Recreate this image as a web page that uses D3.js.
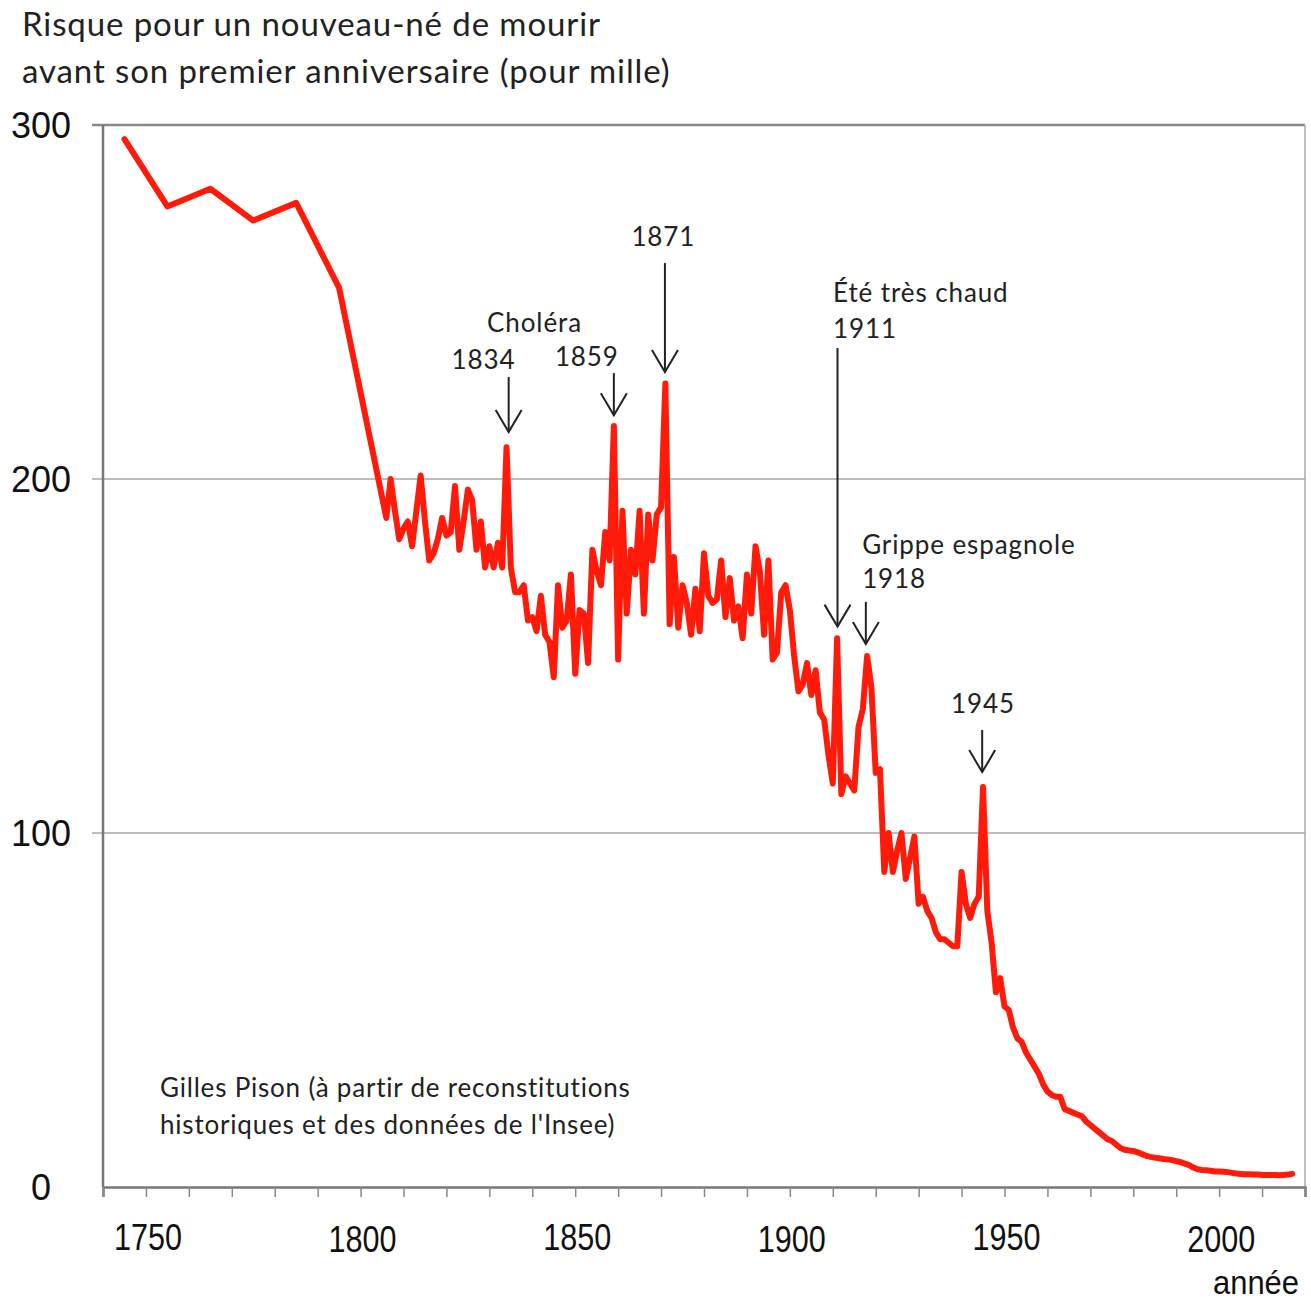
<!DOCTYPE html>
<html>
<head>
<meta charset="utf-8">
<script src="https://cdn.jsdelivr.net/npm/d3@7"></script>
<style>
  body { margin: 0; background: #fff; }
  svg { display: block; }
</style>
</head>
<body>
<div id="chart"></div>
<script>
// decadal estimates before 1800, then yearly values (per 1000)
var years_early = [1745, 1755, 1765, 1775, 1785, 1795];
var values_early = [296, 277, 282, 273, 278, 254];

var year_start = 1806;
var values_yearly = [
  // 1806-1835
  189, 200, 191, 183, 186, 188, 181, 191, 201, 188,
  177, 179, 183, 189, 184, 185, 198, 180, 188, 197,
  194, 180, 188, 175, 181, 175, 182, 175, 209, 175,
  // 1836-1865
  168, 168, 170, 160, 161, 157, 167, 156, 154, 144,
  170, 158, 160, 173, 145, 163, 162, 148, 180, 174,
  170, 185, 177, 215, 149, 191, 162, 180, 173, 191,
  // 1866-1895
  162, 190, 177, 190, 192, 227, 159, 178, 158, 170,
  165, 156, 169, 157, 179, 167, 165, 166, 177, 161,
  172, 160, 164, 155, 173, 162, 181, 174, 156, 177,
  // 1896-1925
  149, 151, 168, 170, 163, 150, 140, 142, 148, 139,
  146, 134, 132, 122, 114, 155, 111, 116, 114, 112,
  130, 135, 150, 141, 117, 118, 89, 100, 89, 95,
  // 1926-1955
  100, 87, 93, 99, 80, 82, 78, 76, 72, 70,
  70, 69, 68, 68, 89, 80, 76, 80, 82, 113,
  78, 69, 55, 59, 51, 50, 45, 42, 41, 38,
  // 1956-1985
  36, 34, 32, 29, 27, 26, 25.5, 25.5, 22, 21.5,
  21, 20.5, 20, 18.5, 17.5, 16.5, 15.5, 14.5, 13.5, 13,
  12, 11, 10.5, 10.3, 10.2, 9.8, 9.3, 8.8, 8.5, 8.3,
  // 1986-2017
  8.1, 7.9, 7.8, 7.6, 7.3, 7.0, 6.6, 6.2, 5.5, 5.0,
  4.8, 4.7, 4.6, 4.4, 4.4, 4.3, 4.2, 4.0, 3.8, 3.7,
  3.6, 3.6, 3.5, 3.5, 3.4, 3.4, 3.4, 3.4, 3.3, 3.4,
  3.5, 3.7
];

var y_ticks = [0, 100, 200, 300];
var x_labels = [1750, 1800, 1850, 1900, 1950, 2000];

// annotated events: year of arrow, arrow top and tip (per 1000)
var note_years = [1834.5, 1859, 1870.9, 1911.1, 1917.7, 1944.8];
var note_tops = [228.8, 229.9, 261, 237, 165.3, 129.1];
var note_tips = [213.3, 218, 230.2, 158.3, 153.4, 117.2];

var title_lines = ['Risque pour un nouveau-né de mourir', 'avant son premier anniversaire (pour mille)'];
var source_lines = ["Gilles Pison (à partir de reconstitutions", "historiques et des données de l'Insee)"];

var data = years_early.map(function(y, i) { return {year: y, value: values_early[i]}; })
  .concat(values_yearly.map(function(v, i) { return {year: year_start + i, value: v}; }));

var width = 1311, height = 1302;

var svg = d3.select('#chart').append('svg')
  .attr('width', width)
  .attr('height', height)
  .style('font-family', 'Lato, "Open Sans", sans-serif');

var x = d3.scaleLinear().domain([1740, 2020]).range([103, 1305]);
var y = d3.scaleLinear().domain([0, 300]).range([1187, 125]);

// grid lines + frame
svg.append('g').selectAll('line')
  .data(y_ticks.filter(function(d) { return d > 0; }))
  .enter().append('line')
  .attr('x1', 92).attr('x2', x(2020))
  .attr('y1', function(d) { return y(d); })
  .attr('y2', function(d) { return y(d); })
  .attr('stroke', function(d) { return d == 300 ? '#888' : '#bdbdbd'; })
  .attr('stroke-width', function(d) { return d == 300 ? 2.5 : 1.8; });

svg.append('line')
  .attr('x1', x(2020)).attr('x2', x(2020))
  .attr('y1', y(300)).attr('y2', y(0))
  .attr('stroke', '#aaa').attr('stroke-width', 1.5);

// y axis
svg.append('line')
  .attr('x1', x(1740)).attr('x2', x(1740))
  .attr('y1', y(300)).attr('y2', y(0))
  .attr('stroke', '#777').attr('stroke-width', 2.5);

svg.append('g').selectAll('text')
  .data(y_ticks)
  .enter().append('text')
  .attr('x', 41)
  .attr('y', function(d) { return y(d) + 13; })
  .attr('text-anchor', 'middle')
  .style('font-family', '"Liberation Sans", Arial, sans-serif')
  .style('font-size', '36px')
  .attr('fill', '#111')
  .text(function(d) { return d; });

// x axis
var xaxis = d3.axisBottom(x)
  .tickValues(d3.range(1740, 2021, 10))
  .tickSize(10)
  .tickFormat('');

svg.append('g')
  .attr('transform', 'translate(0,' + y(0) + ')')
  .call(xaxis)
  .call(function(g) {
    g.select('.domain').attr('stroke', '#777').attr('stroke-width', 2.5);
    g.selectAll('.tick line').attr('stroke', '#888').attr('stroke-width', 1.5);
  });

// narrow labels, squeezed to the reference width
svg.append('g').selectAll('text')
  .data(x_labels)
  .enter().append('text')
  .attr('x', function(d) { return x(d) + 2 - 34; })
  .attr('y', function(d, i) { return i % 2 == 0 ? 1250 : 1252; })
  .attr('textLength', 68)
  .attr('lengthAdjust', 'spacingAndGlyphs')
  .style('font-family', '"Liberation Sans", sans-serif')
  .style('font-size', '37px')
  .attr('fill', '#111')
  .text(function(d) { return d; });

svg.append('text')
  .attr('x', 1213)
  .attr('y', 1294)
  .attr('textLength', 86)
  .attr('lengthAdjust', 'spacingAndGlyphs')
  .style('font-family', '"Liberation Sans", sans-serif')
  .style('font-size', '33px')
  .attr('fill', '#111')
  .text('année');

// the series
var line = d3.line()
  .x(function(d) { return x(d.year); })
  .y(function(d) { return y(d.value); });

svg.append('path')
  .datum(data)
  .attr('d', line)
  .attr('fill', 'none')
  .attr('stroke', '#ff1a0a')
  .attr('stroke-width', 6)
  .attr('stroke-linejoin', 'round')
  .attr('stroke-linecap', 'round');

// arrows
var arrows = svg.append('g').attr('stroke', '#222').attr('stroke-width', 2).attr('fill', 'none');
note_years.forEach(function(yr, i) {
  var ax = x(yr), top = y(note_tops[i]), tip = y(note_tips[i]);
  arrows.append('line').attr('x1', ax).attr('x2', ax).attr('y1', top).attr('y2', tip);
  arrows.append('path')
    .attr('d', 'M' + (ax - 13) + ',' + (tip - 22) + 'L' + ax + ',' + tip + 'L' + (ax + 13) + ',' + (tip - 22));
});

// labels
var notes = svg.append('g').attr('fill', '#222').style('font-size', '26px').style('letter-spacing', '0.9px');
notes.append('text').attr('x', x(1834) + 28).attr('y', 332).attr('text-anchor', 'middle').text('Choléra');
notes.append('text').attr('x', x(1834) - 23).attr('y', 369).attr('text-anchor', 'middle').text('1834');
notes.append('text').attr('x', x(1859) - 27).attr('y', 366).attr('text-anchor', 'middle').text('1859');
notes.append('text').attr('x', x(1871) - 2).attr('y', 246).attr('text-anchor', 'middle').text('1871');
notes.append('text').attr('x', x(1911) - 4).attr('y', 302).text('Été très chaud');
notes.append('text').attr('x', x(1911) - 4).attr('y', 338).text('1911');
notes.append('text').attr('x', x(1918) - 5).attr('y', 554).text('Grippe espagnole');
notes.append('text').attr('x', x(1918) - 5).attr('y', 588).text('1918');
notes.append('text').attr('x', x(1945)).attr('y', 713).attr('text-anchor', 'middle').text('1945');

svg.append('g').selectAll('text')
  .data(source_lines)
  .enter().append('text')
  .attr('x', 160)
  .attr('y', function(d, i) { return 1097 + i * 37; })
  .attr('fill', '#222')
  .style('font-size', '26px')
  .style('letter-spacing', '0.8px')
  .text(function(d) { return d; });

// title
svg.append('g').selectAll('text')
  .data(title_lines)
  .enter().append('text')
  .attr('x', 22)
  .attr('y', function(d, i) { return 36 + i * 47; })
  .attr('fill', '#222')
  .style('font-size', '33px')
  .style('letter-spacing', '0.9px')
  .text(function(d) { return d; });
</script>
</body>
</html>
